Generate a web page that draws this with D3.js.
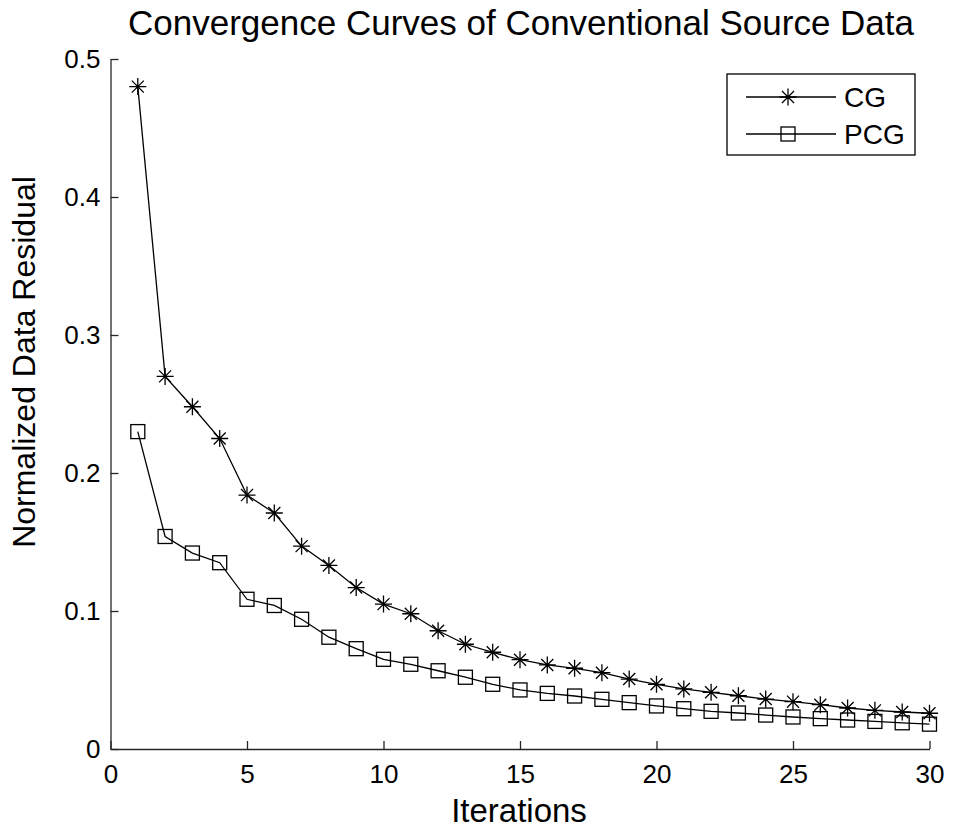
<!DOCTYPE html>
<html>
<head>
<meta charset="utf-8">
<script src="https://cdn.jsdelivr.net/npm/d3@7"></script>
<style>
  body { margin: 0; background: #fff; }
  text { font-family: "Liberation Sans", Arial, sans-serif; fill: #000; }
</style>
</head>
<body>
<svg></svg>
<script>
        const svgWidth = 953;
        const svgHeight = 830;

        // data
        const iterations = d3.range(1, 31);
        const cgValues = [0.480, 0.270, 0.248, 0.225, 0.184, 0.171, 0.147, 0.133, 0.117, 0.105,
                          0.098, 0.0857, 0.0759, 0.0701, 0.0647, 0.0609, 0.0585, 0.0553, 0.0507, 0.0469,
                          0.0435, 0.0411, 0.0386, 0.0362, 0.0343, 0.0321, 0.0297, 0.0280, 0.0268, 0.0259];
        const pcgValues = [0.230, 0.154, 0.142, 0.135, 0.1085, 0.104, 0.094, 0.081, 0.0727, 0.065,
                           0.0614, 0.0567, 0.052, 0.0469, 0.0428, 0.0403, 0.0384, 0.036, 0.0336, 0.0312,
                           0.0292, 0.0273, 0.0261, 0.0246, 0.0232, 0.022, 0.021, 0.020, 0.019, 0.018];
        const xTicks = [0, 5, 10, 15, 20, 25, 30];
        const yTicks = [0, 0.1, 0.2, 0.3, 0.4, 0.5];
        const seriesNames = ["CG", "PCG"];

        const svg = d3.select("svg")
            .attr("width", svgWidth)
            .attr("height", svgHeight);

        const x = d3.scaleLinear().domain([0, 30]).range([110.5, 929.5]);
        const y = d3.scaleLinear().domain([0, 0.5]).range([749, 59]);

        // axes, matlab style: ticks pointing inward, no box
        const xAxis = svg.append("g")
            .attr("transform", `translate(0,${y(0)})`)
            .call(d3.axisBottom(x).tickValues(xTicks).tickSizeInner(-8).tickSizeOuter(0).tickPadding(16)
                .tickFormat(d3.format("d")));
        const yAxis = svg.append("g")
            .attr("transform", `translate(${x(0)},0)`)
            .call(d3.axisLeft(y).tickValues(yTicks).tickSizeInner(-8).tickSizeOuter(0).tickPadding(10)
                .tickFormat(d => d === 0 ? "0" : d3.format(".1f")(d)));

        [xAxis, yAxis].forEach(g => {
            g.selectAll("path, line").attr("stroke", "#262626").attr("stroke-width", 1.3);
            g.selectAll("text").style("font-size", "26px").attr("fill", "#000");
        });
        xAxis.selectAll("text").attr("dy", "0.71em");

        const line = d3.line()
            .x((d, i) => x(iterations[i]))
            .y(d => y(d));

        svg.append("path")
            .datum(cgValues)
            .attr("d", line)
            .attr("fill", "none")
            .attr("stroke", "#000")
            .attr("stroke-width", 1.3);

        svg.append("path")
            .datum(pcgValues)
            .attr("d", line)
            .attr("fill", "none")
            .attr("stroke", "#000")
            .attr("stroke-width", 1.3);

        const starPath = (r) => {
            const d = r * Math.SQRT1_2;
            return `M${-r},0L${r},0M0,${-r}L0,${r}M${-d},${-d}L${d},${d}M${-d},${d}L${d},${-d}`;
        };

        function drawStar(g, cx, cy) {
            g.append("path")
                .attr("transform", `translate(${cx},${cy})`)
                .attr("d", starPath(8.5))
                .attr("fill", "none")
                .attr("stroke", "#000")
                .attr("stroke-width", 1.3);
        }
        function drawSquare(g, cx, cy) {
            g.append("rect")
                .attr("x", cx - 7).attr("y", cy - 7)
                .attr("width", 14).attr("height", 14)
                .attr("fill", "none")
                .attr("stroke", "#000")
                .attr("stroke-width", 1.3);
        }

        const markers = svg.append("g");
        pcgValues.forEach((v, i) => drawSquare(markers, x(iterations[i]), y(v)));
        cgValues.forEach((v, i) => drawStar(markers, x(iterations[i]), y(v)));

        // title and labels
        svg.append("text")
            .attr("x", 521).attr("y", 35)
            .attr("text-anchor", "middle")
            .style("font-size", "35px")
            .text("Convergence Curves of Conventional Source Data");

        svg.append("text")
            .attr("x", 519).attr("y", 822)
            .attr("text-anchor", "middle")
            .style("font-size", "33px")
            .text("Iterations");

        svg.append("text")
            .attr("transform", `translate(35,362) rotate(-90)`)
            .attr("text-anchor", "middle")
            .style("font-size", "32px")
            .text("Normalized Data Residual");

        // legend
        const legend = svg.append("g");
        legend.append("rect")
            .attr("x", 727).attr("y", 74)
            .attr("width", 188).attr("height", 81)
            .attr("fill", "#fff")
            .attr("stroke", "#000")
            .attr("stroke-width", 1.3);

        seriesNames.forEach((name, i) => {
            const ly = 97 + i * 37;
            legend.append("line")
                .attr("x1", 746).attr("x2", 836)
                .attr("y1", ly).attr("y2", ly)
                .attr("stroke", "#000")
                .attr("stroke-width", 1.3);
            if (i === 0) drawStar(legend, 788, ly);
            else drawSquare(legend, 788, ly);
            legend.append("text")
                .attr("x", 844).attr("y", ly)
                .attr("dy", "0.36em")
                .style("font-size", "28px")
                .text(name);
        });
</script>
</body>
</html>
